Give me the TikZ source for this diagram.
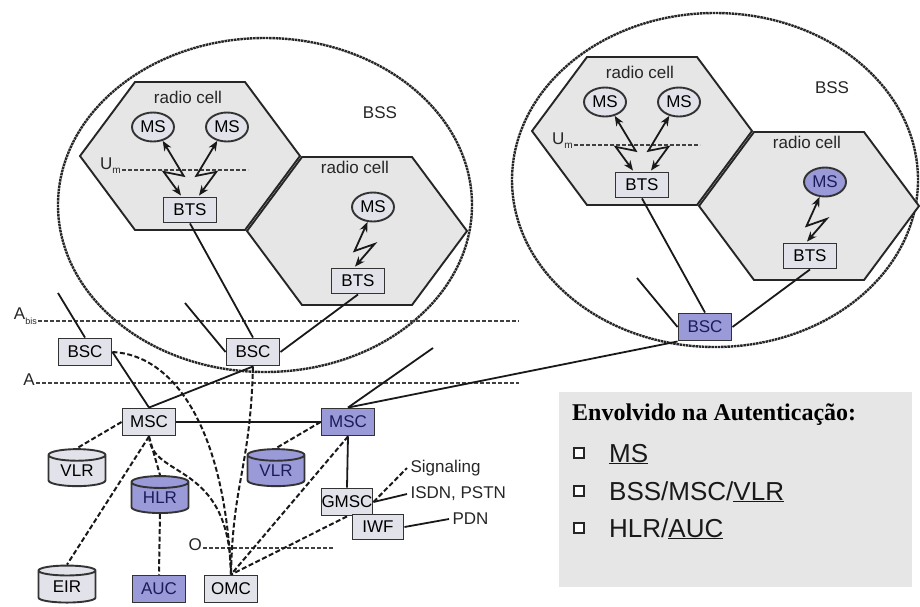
\documentclass[tikz,border=0pt]{standalone}
\usepackage{fontspec}
\setmainfont{Liberation Sans}
\newfontfamily\titlefont{Liberation Serif}
\usetikzlibrary{arrows.meta,shapes.geometric,calc}

\definecolor{cellgray}{HTML}{E6E6E6}
\definecolor{boxgray}{HTML}{E2E2EA}
\definecolor{authblue}{HTML}{9A9AD8}
\definecolor{authtext}{HTML}{1C1C5C}
\definecolor{legendgray}{HTML}{E6E6E6}

\begin{document}
\begin{tikzpicture}[x=1pt, y=-1pt,
    lbl/.style={font=\fontsize{17}{17}\selectfont, text=black!85},
    box/.style={draw=black!80, line width=1.9pt, fill=boxgray, minimum width=53pt,
        minimum height=27pt, inner sep=1pt, font=\fontsize{17}{17}\selectfont},
    abox/.style={box, fill=authblue, text=authtext},
    ms/.style={ellipse, draw=black!80, line width=1.9pt, fill=boxgray, minimum width=42pt,
        minimum height=29pt, inner sep=0pt, font=\fontsize{17}{17}\selectfont},
    ams/.style={ms, fill=authblue, text=authtext},
    db/.style={cylinder, shape border rotate=90, aspect=0.35, draw=black!80, line width=1.9pt,
        fill=boxgray, minimum width=57pt, minimum height=37pt, inner sep=0pt,
        font=\fontsize{17}{17}\selectfont},
    adb/.style={db, fill=authblue, text=authtext},
    cell/.style={draw=black!85, line width=1.9pt, fill=cellgray},
    bss/.style={draw=black!85, line width=2.4pt, dash pattern=on 2.5pt off 0.7pt},
    iface/.style={draw=black!75, line width=2pt, dash pattern=on 4pt off 2pt},
    wire/.style={draw=black!90, line width=1.8pt},
    dwire/.style={wire, line width=2pt, dash pattern=on 5pt off 2.5pt},
    radio/.style={wire, {Stealth[length=10pt,width=8pt]}-{Stealth[length=10pt,width=8pt]}},
    chk/.style={draw=black!85, line width=1.8pt, fill=white, minimum size=10pt, inner sep=0pt},
    big/.style={font=\fontsize{26}{28}\selectfont, text=black!90},
]
\useasboundingbox (0,0) rectangle (920,606);

% BSS areas and radio cells
\draw[bss] (265,205) ellipse [x radius=207pt, y radius=167pt];
\draw[bss] (715,180) ellipse [x radius=203pt, y radius=167pt];
\foreach \cx/\cy in {190/156, 357/231, 642/131, 809/206}
    \draw[cell] (\cx-55,\cy-74) -- (\cx+55,\cy-74) -- (\cx+110,\cy) -- (\cx+55,\cy+74)
        -- (\cx-55,\cy+74) -- (\cx-110,\cy) -- cycle;

% left BSS
\node[lbl] (rc1) at (188,97) {radio cell};
\node[lbl] (rc2) at (355,167) {radio cell};
\node[lbl] (bss1) at (380,113) {BSS};
\node[ms] (ms1) at (153,127) {MS};
\node[ms] (ms2) at (227,127) {MS};
\node[ms] (ms3) at (373,207) {MS};
\node[box, minimum height=25pt] (bts1) at (190,210) {BTS};
\node[box, minimum height=25pt] (bts2) at (358,281) {BTS};
\node[lbl, anchor=east, inner sep=1pt] (um1) at (122,166) {U\raisebox{-4pt}{\fontsize{10}{10}\selectfont m}};
\coordinate (um1end) at (248,170);
\draw[iface, line width=1.6pt] (um1.east |- um1end) -- (um1end);
\draw[radio] (ms1.-55) -- ++(21,35) -- ++(-20,-4) -- ($(bts1.north)+(-9,-1)$);
\draw[radio] (ms2.-125) -- ++(-21,35) -- ++(20,-4) -- ($(bts1.north)+(9,-1)$);
\draw[radio] (ms3.-110) -- ++(-13,29) -- ++(20,-7) -- ($(bts2.north)+(-3,-1)$);

% right BSS
\node[lbl] (rc3) at (640,72) {radio cell};
\node[lbl] (rc4) at (807,142) {radio cell};
\node[lbl] (bss2) at (832,88) {BSS};
\node[ms] (ms4) at (605,102) {MS};
\node[ms] (ms5) at (679,102) {MS};
\node[ams] (ms6) at (825,182) {MS};
\node[box, minimum height=25pt] (bts3) at (642,185) {BTS};
\node[box, minimum height=25pt] (bts4) at (810,256) {BTS};
\node[lbl, anchor=east, inner sep=1pt] (um2) at (574,141) {U\raisebox{-4pt}{\fontsize{10}{10}\selectfont m}};
\coordinate (um2end) at (700,145);
\draw[iface, line width=1.6pt] (um2.east |- um2end) -- (um2end);
\draw[radio] (ms4.-55) -- ++(21,35) -- ++(-20,-4) -- ($(bts3.north)+(-9,-1)$);
\draw[radio] (ms5.-125) -- ++(-21,35) -- ++(20,-4) -- ($(bts3.north)+(9,-1)$);
\draw[radio] (ms6.-110) -- ++(-13,29) -- ++(20,-7) -- ($(bts4.north)+(-3,-1)$);

% interfaces
\node[lbl, anchor=east, inner sep=1pt] (abis) at (38,316) {A\raisebox{-5pt}{\fontsize{9}{9}\selectfont bis}};
\node[lbl, anchor=east, inner sep=1pt] (aif) at (36,380) {A};
\node[lbl, anchor=east, inner sep=1pt] (oif) at (203,545) {O};
\coordinate (abisend) at (519,321);
\coordinate (aifend) at (519,383);
\coordinate (oifend) at (333,548);
\draw[iface] (abis.east |- abisend) -- (abisend);
\draw[iface] (aif.east |- aifend) -- (aifend);
\draw[iface] (oif.east |- oifend) -- (oifend);

% network nodes
\node[box] (bscl) at (85,352) {BSC};
\node[box] (bscm) at (253,352) {BSC};
\node[abox] (bscr) at (705,327) {BSC};
\node[box] (msc) at (149,422) {MSC};
\node[abox] (mscb) at (348,422) {MSC};
\node[db] (vlr) at (77,471) {VLR};
\node[adb] (vlrb) at (276,471) {VLR};
\node[adb] (hlr) at (160,498) {HLR};
\node[db] (eir) at (67,587) {EIR};
\node[abox] (auc) at (159,589) {AUC};
\node[box] (omc) at (231,589) {OMC};
\node[box, minimum width=51pt, inner sep=0pt] (gmsc) at (347,502) {GMSC};
\node[box, minimum width=51pt, minimum height=25pt] (iwf) at (378,527) {IWF};
\node[lbl, anchor=west] (sig) at (407,468) {Signaling};
\node[lbl, anchor=west] (isdn) at (407,494) {ISDN, PSTN};
\node[lbl, anchor=west] (pdn) at (449,519) {PDN};

% solid links
\coordinate (stubA) at (58,293);
\coordinate (stubB) at (185,303);
\coordinate (stubC) at (433,348);
\coordinate (stubD) at (637,278);
\draw[wire] (bts1.south) -- (bscm.north);
\draw[wire] (bts2.south) -- (bscm.east);
\draw[wire] (stubB) -- (bscm.west);
\draw[wire] (stubA) -- (bscl.north);
\draw[wire] (bscl.east) -- (msc.north);
\draw[wire] (bscm.south) -- (msc.north);
\draw[wire] (msc.east) -- (mscb.west);
\draw[wire] (bscr.south west) -- (mscb.north);
\draw[wire] (stubC) -- (mscb.north);
\draw[wire] (bts3.south) -- (bscr.north);
\draw[wire] (bts4.south) -- (bscr.east);
\draw[wire] (stubD) -- (bscr.west);
\draw[wire] (mscb.south) -- (gmsc.north);
\draw[wire] (gmsc.east) -- (isdn.west);
\draw[wire] (iwf.east) -- (pdn.west);

% dashed links
\draw[dwire] (gmsc.east) -- (sig.west);
\draw[dwire] (msc.west) -- (vlr.north);
\draw[dwire] (msc.south) -- (eir.north);
\draw[dwire] (msc.south) -- (hlr.north);
\draw[dwire] (hlr.south) -- (auc.north);
\draw[dwire] (mscb.west) -- (vlrb.north);
\draw[dwire] (mscb.south) -- (omc.north);
\draw[dwire] (gmsc.south) -- (omc.north);
\draw[dwire] (bscl.east) .. controls (175,355) and (225,430) .. (omc.north);
\draw[dwire] (msc.south) .. controls (152,480) and (230,460) .. (omc.north);
\draw[dwire] (bscm.south) .. controls (250,470) and (233,480) .. (omc.north);

% legend
\fill[legendgray] (559,392) rectangle (912,587);
\node[anchor=base west, inner sep=0pt, font=\titlefont\bfseries\fontsize{24}{26}\selectfont] (ltitle) at (572,420) {Envolvido na Autenticação:};
\node[chk] (c1) at (579,453) {};
\node[chk] (c2) at (579,491) {};
\node[chk] (c3) at (579,528) {};
\node[big, anchor=base west, inner sep=0pt] (l1) at (609,462) {\underline{MS}};
\node[big, anchor=base west, inner sep=0pt] (l2) at (609,500) {BSS/MSC/\underline{VLR}};
\node[big, anchor=base west, inner sep=0pt] (l3) at (609,537) {HLR/\underline{AUC}};
\end{tikzpicture}
\end{document}
